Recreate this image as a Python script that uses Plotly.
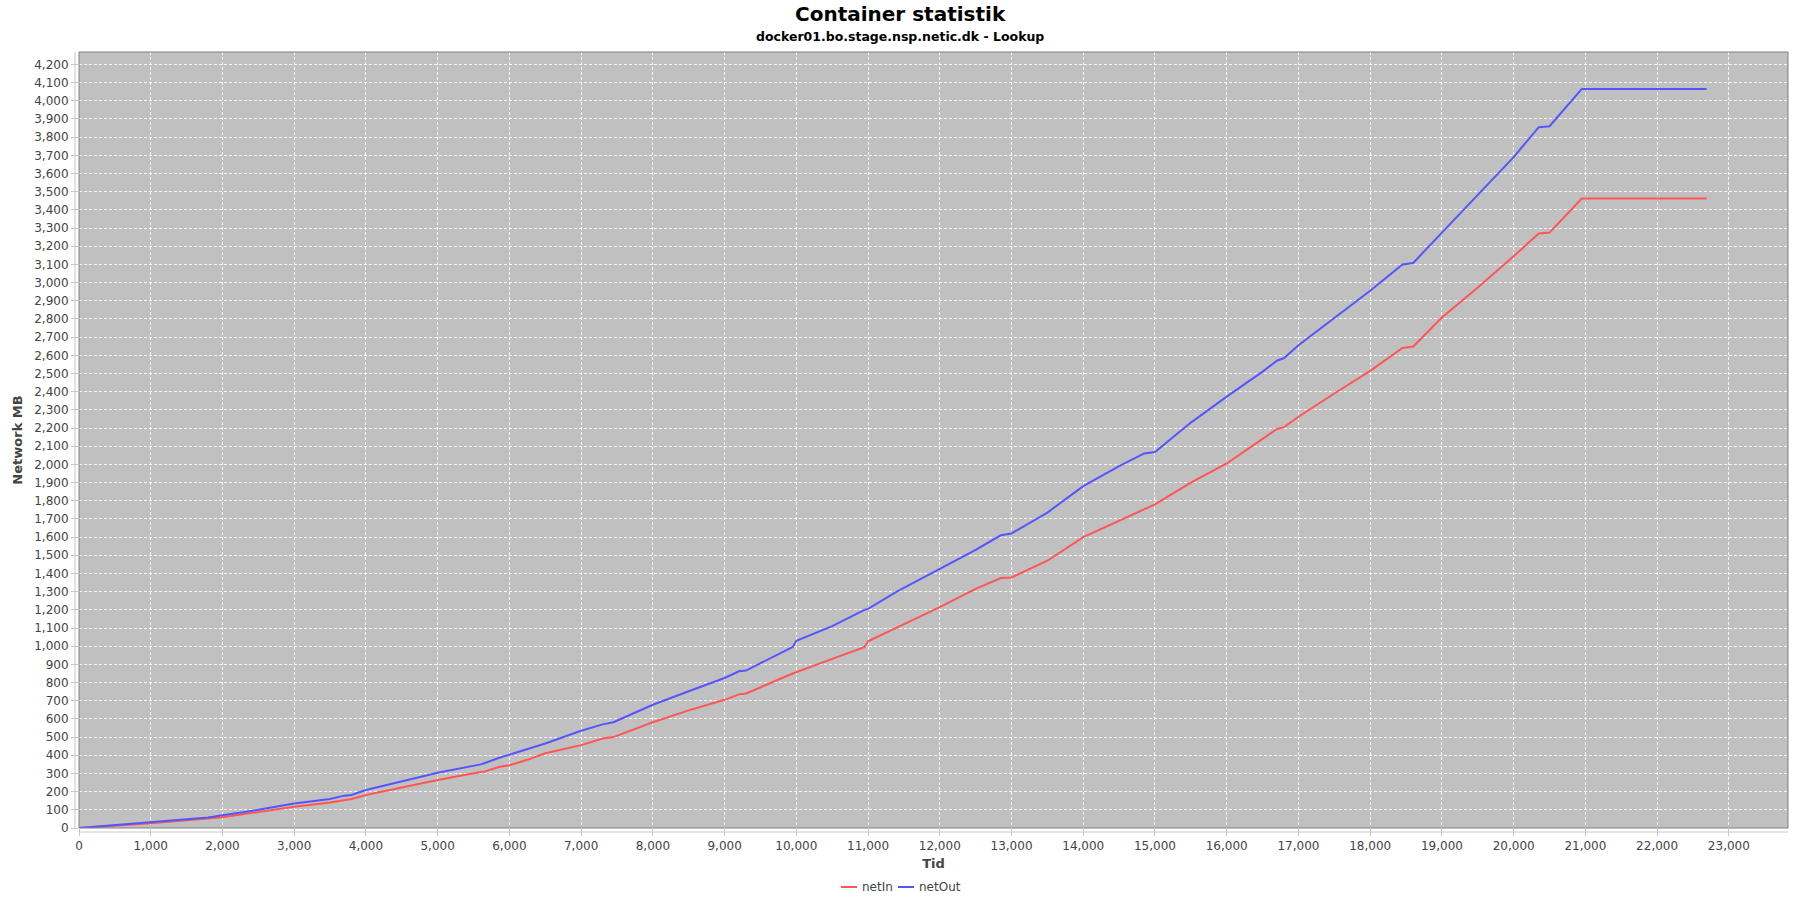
import plotly.graph_objects as go

tid = [0, 500, 1000, 1500, 1800, 2000, 2500, 3000, 3500, 3700, 3800, 4000, 4500, 5000,
       5600, 5650, 5850, 6000, 6250, 6500, 7000, 7300, 7450, 8000, 8500, 9000, 9200, 9300,
       9950, 10000, 10500, 10950, 11000, 11400, 12000, 12500, 12850, 13000, 13500, 14000,
       14500, 14850, 15000, 15500, 16000, 16500, 16700, 16800, 17000, 17500, 18000, 18450,
       18600, 19000, 19500, 20000, 20350, 20500, 20950, 22690]

net_out = [0, 15, 33, 48, 58, 70, 100, 135, 160, 178, 182, 209, 255, 304,
           350, 356, 385, 403, 432, 465, 535, 570, 582, 678, 752, 825, 862, 866,
           996, 1030, 1110, 1200, 1205, 1300, 1425, 1530, 1610, 1620, 1735, 1880,
           1990, 2060, 2068, 2230, 2373, 2510, 2570, 2585, 2655, 2805, 2955, 3100,
           3108, 3275, 3485, 3690, 3855, 3860, 4065, 4065]

net_in = [0, 12, 26, 42, 52, 59, 88, 117, 140, 154, 160, 181, 222, 264,
          308, 310, 335, 345, 375, 411, 456, 492, 500, 582, 647, 705, 735, 740,
          850, 857, 930, 995, 1027, 1102, 1215, 1315, 1375, 1378, 1470, 1600,
          1690, 1755, 1780, 1900, 2005, 2140, 2195, 2205, 2262, 2390, 2514, 2640,
          2648, 2808, 2973, 3145, 3270, 3275, 3462, 3462]

series_names = ["netIn", "netOut"]
series_colors = ["#FF5555", "#5555FF"]

FONT = "DejaVu Sans"
W, H = 1800, 900
PL, PR, PT, PB = 79, 1788, 52, 828          # plot area in page pixels
L, R, T, B = PL, W - PR, PT, H - PB
pw, ph = PR - PL, PB - PT


def px_x(x):
    return (x - PL) / pw


def px_y(y):
    return (PB - y) / ph


fig = go.Figure()
for name, vals, col in zip(series_names, [net_in, net_out], series_colors):
    fig.add_trace(go.Scatter(x=tid, y=vals, mode="lines", name=name, showlegend=False,
                             line=dict(color=col, width=2, shape="linear")))

xmax = max(tid) * 1.05
ymax = max(max(net_in), max(net_out)) * 1.05

axis_common = dict(
    showgrid=True, gridcolor="rgba(255,255,255,0.85)", gridwidth=1, griddash="3px,2px",
    zeroline=False, showline=False,
    ticks="outside", ticklen=7, tickcolor="#C8C8C8",
    tickfont=dict(family=FONT, size=12, color="#444444"),
    tickformat=",d",
)

annotations = [
    dict(text="<b>Container statistik</b>", xref="paper", yref="paper",
         x=px_x(900), y=px_y(14), xanchor="center", yanchor="middle",
         showarrow=False, font=dict(family=FONT, size=20, color="black")),
    dict(text="<b>docker01.bo.stage.nsp.netic.dk - Lookup</b>", xref="paper", yref="paper",
         x=px_x(900), y=px_y(36), xanchor="center", yanchor="middle",
         showarrow=False, font=dict(family=FONT, size=12.5, color="black")),
]
shapes = [
    dict(type="rect", xref="paper", yref="paper", x0=0, x1=1, y0=0, y1=1,
         line=dict(color="#808080", width=1), fillcolor="rgba(0,0,0,0)", layer="above"),
    dict(type="line", xref="paper", yref="paper", x0=-4 / pw, x1=-4 / pw, y0=0, y1=1,
         line=dict(color="#C8C8C8", width=1), layer="above"),
    dict(type="line", xref="paper", yref="paper", x0=0, x1=1, y0=-4 / ph, y1=-4 / ph,
         line=dict(color="#C8C8C8", width=1), layer="above"),
]

# legend drawn as line sample + text
legend_line_x = [841, 898]
legend_y = 887
for name, col, lx in zip(series_names, series_colors, legend_line_x):
    shapes.append(dict(type="line", xref="paper", yref="paper",
                       x0=px_x(lx), x1=px_x(lx + 16), y0=px_y(legend_y), y1=px_y(legend_y),
                       line=dict(color=col, width=2)))
    annotations.append(dict(text=name, xref="paper", yref="paper",
                            x=px_x(lx + 19), y=px_y(legend_y), xanchor="left", yanchor="middle",
                            showarrow=False, font=dict(family=FONT, size=12, color="#444444")))

fig.update_layout(
    width=W, height=H,
    paper_bgcolor="white", plot_bgcolor="#C0C0C0",
    margin=dict(l=L, r=R, t=T, b=B, autoexpand=False),
    font=dict(family=FONT),
    showlegend=False,
    xaxis=dict(range=[0, xmax], dtick=1000, tick0=0,
               title=dict(text="<b>Tid</b>", font=dict(family=FONT, size=13, color="#444444"),
                          standoff=6),
               **axis_common),
    yaxis=dict(range=[0, ymax], dtick=100, tick0=0,
               title=dict(text="<b>Network MB</b>", font=dict(family=FONT, size=13, color="#444444"),
                          standoff=8),
               **axis_common),
    annotations=annotations,
    shapes=shapes,
)

fig.write_html("out.html", config={"displayModeBar": False},
               post_script="document.body.style.margin='0';")
